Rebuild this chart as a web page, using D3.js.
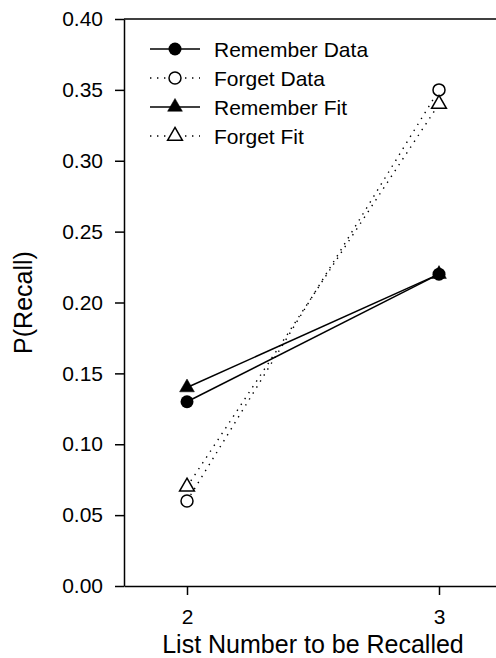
<html>

<head>
  <style>
    body {
      margin: 0;
      background: #fff;
    }

    .chart text {
      font-family: "Liberation Sans", Arial, sans-serif;
      fill: #000;
    }
    .axis path, .axis line, .frame {
      stroke: #000;
      stroke-width: 1.5;
      fill: none;
    }
    .axis text {
      font-size: 21px;
    }
    .title {
      font-size: 25px;
      text-anchor: middle;
    }
    .series {
      fill: none;
      stroke: #000;
      stroke-width: 1.5;
    }
    .series.dotted {
      stroke-width: 1.4;
      stroke-dasharray: 1.4, 5.6;
    }
    .legend text {
      font-size: 21px;
    }
  </style>
</head>

<body>
<svg class="chart"></svg>
<script src="https://cdn.jsdelivr.net/npm/d3@7"></script>
<script>
    var listNumbers = [2, 3];

    var rememberData = [0.13, 0.22];
    var forgetData = [0.06, 0.35];
    var rememberFit = [0.14, 0.22];
    var forgetFit = [0.07, 0.34];

    var seriesNames = ['Remember Data', 'Forget Data', 'Remember Fit', 'Forget Fit'];
    var yTicks = [0, 0.05, 0.10, 0.15, 0.20, 0.25, 0.30, 0.35, 0.40];

    // name, values, dotted?, symbol, filled?
    var series = [
      [seriesNames[0], rememberData, false, 'circle', true],
      [seriesNames[1], forgetData, true, 'circle', false],
      [seriesNames[2], rememberFit, false, 'triangle', true],
      [seriesNames[3], forgetFit, true, 'triangle', false]
    ];

    var chart = d3.select(".chart")
      .attr("width", 496)
      .attr("height", 658);

    var x = d3.scaleLinear().domain([1.75, 3.25]).range([124, 502]);
    var y = d3.scaleLinear().domain([0, 0.4]).range([586, 19]);

    // frame line on top
    chart.append("line")
      .attr("class", "frame")
      .attr("x1", x(1.75)).attr("x2", x(3.25))
      .attr("y1", y(0.4)).attr("y2", y(0.4));

    chart.append("g")
      .attr("class", "axis")
      .attr("transform", "translate(" + x(1.75) + ",0)")
      .call(d3.axisLeft(y).tickValues(yTicks).tickFormat(d3.format(".2f"))
        .tickSize(9).tickSizeOuter(0).tickPadding(12));

    chart.append("g")
      .attr("class", "axis")
      .attr("transform", "translate(0," + y(0) + ")")
      .call(d3.axisBottom(x).tickValues(listNumbers).tickFormat(d3.format("d"))
        .tickSize(9).tickSizeOuter(0).tickPadding(14));

    chart.selectAll(".axis text").attr("font-family", null);

    chart.append("text")
      .attr("class", "title")
      .attr("x", (x(1.75) + x(3.25)) / 2)
      .attr("y", 652.5)
      .text("List Number to be Recalled");

    chart.append("text")
      .attr("class", "title")
      .attr("transform", "translate(32," + (y(0) + y(0.4)) / 2 + ") rotate(-90)")
      .text("P(Recall)");

    function symbolPath(kind) {
      if (kind == 'circle') return null;
      return d3.symbol().type(d3.symbolTriangle).size(95)();
    }

    function addMarker(sel, d) {
      if (d[3] == 'circle') {
        sel.append("circle")
          .attr("r", d[4] ? 6.5 : 6)
          .attr("fill", d[4] ? "#000" : "#fff")
          .attr("stroke", "#000")
          .attr("stroke-width", d[4] ? 0 : 1.5);
      } else {
        sel.append("path")
          .attr("d", symbolPath(d[3]))
          .attr("fill", d[4] ? "#000" : "#fff")
          .attr("stroke", "#000")
          .attr("stroke-width", d[4] ? 0.5 : 1.5)
          .attr("stroke-linejoin", "miter");
      }
    }

    var line = d3.line()
      .x(function(d, i) { return x(listNumbers[i]); })
      .y(function(d) { return y(d); });

    var groups = chart.selectAll(".serie")
      .data(series)
      .enter()
      .append("g")
      .attr("class", "serie");

    groups.append("path")
      .attr("class", function(d) { return "series" + (d[2] ? " dotted" : ""); })
      .attr("d", function(d) { return line(d[1]); });

    groups.each(function(d) {
      var g = d3.select(this);
      d[1].forEach(function(v, i) {
        var m = g.append("g")
          .attr("transform", "translate(" + x(listNumbers[i]) + "," + y(v) + ")");
        addMarker(m, d);
      });
    });

    // legend
    var legend = chart.selectAll(".legend")
      .data(series)
      .enter()
      .append("g")
      .attr("class", "legend")
      .attr("transform", function(d, i) {
        return "translate(150," + (49 + i * 29) + ")";
      });

    legend.append("line")
      .attr("class", function(d) { return "series" + (d[2] ? " dotted" : ""); })
      .attr("x1", 0).attr("x2", 50)
      .attr("y1", 0).attr("y2", 0);

    legend.each(function(d) {
      var m = d3.select(this).append("g").attr("transform", "translate(25,0)");
      addMarker(m, d);
    });

    legend.append("text")
      .attr("x", 64)
      .attr("dy", "0.36em")
      .text(function(d) { return d[0]; });

</script>
</body>
</html>
